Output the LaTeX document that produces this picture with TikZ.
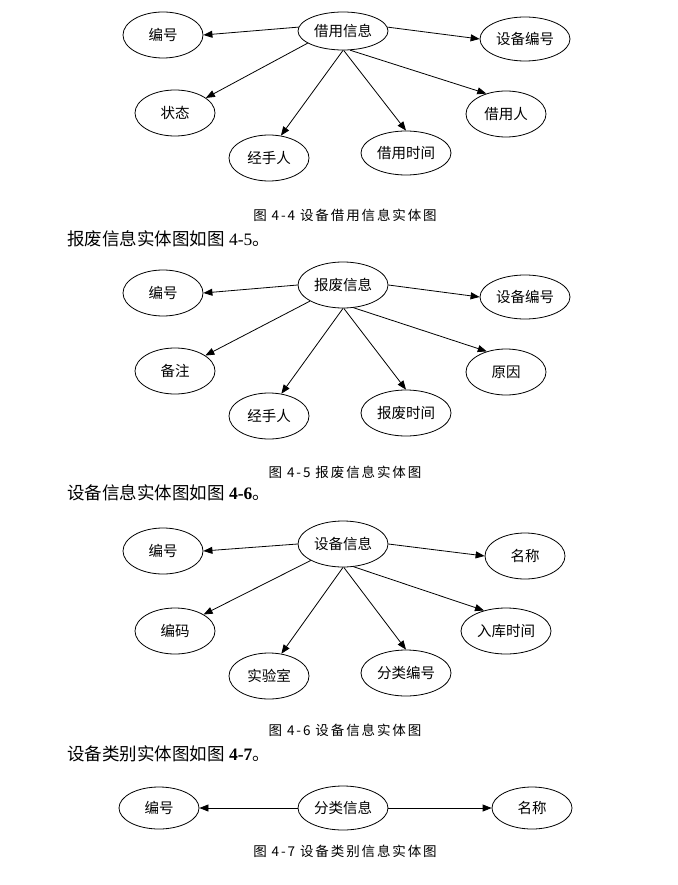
\documentclass[tikz,border=0pt]{standalone}
\usepackage{fontspec}
\setmainfont{Liberation Serif}
\newfontfamily\cjk{Noto Sans CJK SC}
\newfontfamily\cjkcap{Noto Sans CJK SC}[LetterSpace=14]
\usetikzlibrary{shapes.geometric,arrows.meta}
\begin{document}
\begin{tikzpicture}[x=1pt,y=-1pt,
  attr/.style={ellipse, draw, line width=0.8pt, inner sep=0pt, minimum width=80pt, minimum height=46pt, font=\fontsize{14.5}{16}\cjk},
  wide/.style={minimum width=90pt},
  link/.style={line width=0.8pt, -{Triangle[length=9pt,width=7pt]}},
  capt/.style={font=\fontsize{13.5}{16}\cjkcap, inner sep=0pt},
  body/.style={anchor=west, inner sep=0pt, font=\fontsize{17.5}{20}\selectfont}]
\useasboundingbox (0,0) rectangle (677,885);

% ---------- diagram 4-4 ----------
\node[attr, wide, minimum height=38pt] (a0) at (343,31) {借用信息};
\node[attr] (a1) at (163,35) {编号};
\node[attr, wide, minimum height=44pt] (a2) at (525,39) {设备编号};
\node[attr] (a3) at (175,113) {状态};
\node[attr] (a4) at (506,114) {借用人};
\node[attr] (a5) at (269,158) {经手人};
\node[attr, wide, minimum height=44pt] (a6) at (406,153) {借用时间};
\draw[link] (a0.175) -- (a1.east);
\draw[link] (a0.5) -- (a2.west);
\draw[link] (a0.199) -- (a3.26);
\draw[link] (a0.south) -- (a5.62);
\draw[link] (a0.272) -- (a6.north);
\draw[link] (a0.290) -- (a4.134);
\node[capt] (cap1) at (345,215) {图 4-4 设备借用信息实体图};
\node[body] (t1) at (67,239) {{\cjk 报废信息实体图如图} 4-5{\cjk 。}};

% ---------- diagram 4-5 ----------
\node[attr, wide] (b0) at (343,285) {报废信息};
\node[attr] (b1) at (163,293) {编号};
\node[attr, wide, minimum height=44pt] (b2) at (525,297) {设备编号};
\node[attr] (b3) at (175,371) {备注};
\node[attr] (b4) at (506,372) {原因};
\node[attr] (b5) at (269,416) {经手人};
\node[attr, wide] (b6) at (406,413) {报废时间};
\draw[link] (b0.180) -- (b1.east);
\draw[link] (b0.0) -- (b2.west);
\draw[link] (b0.206) -- (b3.27);
\draw[link] (b0.south) -- (b5.61);
\draw[link] (b0.272) -- (b6.north);
\draw[link] (b0.295) -- (b4.133);
\node[capt] (cap2) at (345,472) {图 4-5 报废信息实体图};
\node[body] (t2) at (67,493) {{\cjk 设备信息实体图如图} \textbf{4-6}{\cjk 。}};

% ---------- diagram 4-6 ----------
\node[attr, wide] (c0) at (343,544) {设备信息};
\node[attr] (c1) at (163,551) {编号};
\node[attr] (c2) at (525,556) {名称};
\node[attr] (c3) at (175,631) {编码};
\node[attr, wide] (c4) at (506,631) {入库时间};
\node[attr] (c5) at (269,676) {实验室};
\node[attr, wide] (c6) at (406,673) {分类编号};
\draw[link] (c0.180) -- (c1.east);
\draw[link] (c0.0) -- (c2.west);
\draw[link] (c0.207) -- (c3.30);
\draw[link] (c0.south) -- (c5.61);
\draw[link] (c0.272) -- (c6.north);
\draw[link] (c0.295) -- (c4.137);
\node[capt] (cap3) at (345,730) {图 4-6 设备信息实体图};
\node[body] (t3) at (67,754) {{\cjk 设备类别实体图如图} \textbf{4-7}{\cjk 。}};

% ---------- diagram 4-7 ----------
\node[attr, minimum height=42pt] (d1) at (159,808) {编号};
\node[attr, wide, minimum height=44pt] (d0) at (343,808) {分类信息};
\node[attr, minimum height=42pt] (d2) at (532,808) {名称};
\draw[link] (d0.west) -- (d1.east);
\draw[link] (d0.east) -- (d2.west);
\node[capt] (cap4) at (345,851) {图 4-7 设备类别信息实体图};
\end{tikzpicture}
\end{document}
